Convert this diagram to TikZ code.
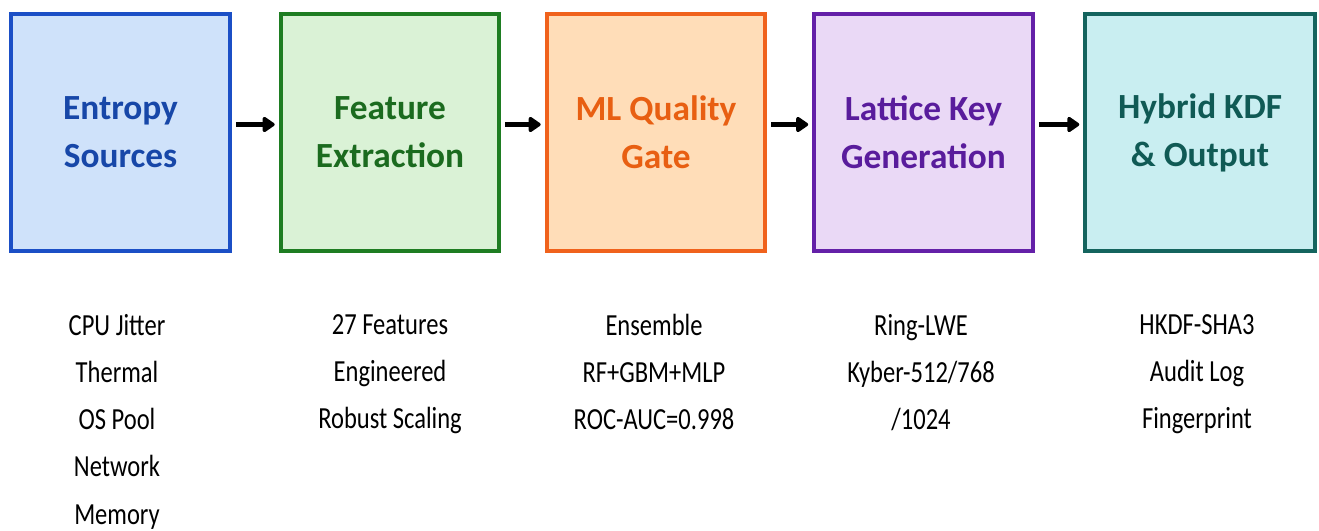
\documentclass[tikz,border=0pt]{standalone}
\usepackage{fontspec}
\setmainfont{Carlito}
\newfontfamily\narrowfont{Carlito}[FakeStretch=0.80]
\usetikzlibrary{arrows.meta,positioning}

% line / fill / text colours of the five stages
\definecolor{srcline}{HTML}{1B4FC6}
\definecolor{srcfill}{HTML}{CFE2FA}
\definecolor{srctext}{HTML}{1747A8}
\definecolor{featline}{HTML}{1E7D22}
\definecolor{featfill}{HTML}{DAF2D6}
\definecolor{feattext}{HTML}{1B6B1F}
\definecolor{gateline}{HTML}{F0621C}
\definecolor{gatefill}{HTML}{FFDDB8}
\definecolor{gatetext}{HTML}{E85F12}
\definecolor{keyline}{HTML}{6420A8}
\definecolor{keyfill}{HTML}{EAD9F6}
\definecolor{keytext}{HTML}{591C9C}
\definecolor{kdfline}{HTML}{14645E}
\definecolor{kdffill}{HTML}{C9EEF1}
\definecolor{kdftext}{HTML}{105A55}

\begin{document}
\begin{tikzpicture}[x=0.75pt,y=-0.75pt,
  stage/.style={draw,line width=3pt,minimum width=164pt,minimum height=178pt,align=center,
    inner sep=2pt,font=\fontsize{26.5}{36}\selectfont\bfseries},
  detail/.style={anchor=north,align=center,inner sep=0pt,font=\narrowfont\fontsize{23}{35.4}\selectfont},
  arr/.style={-{Triangle[length=10pt,width=13pt,round]},line width=3.6pt,shorten <=3pt,shorten >=3pt}]
\useasboundingbox (0,0) rectangle (1319,531);
% ---------- pipeline stages ----------
\node[stage,draw=srcline,fill=srcfill,text=srctext] (src) at (120.5,132.5) {Entropy\\Sources};
\node[stage,draw=featline,fill=featfill,text=feattext] (feat) at (390,132.5) {Feature\\Extraction};
\node[stage,draw=gateline,fill=gatefill,text=gatetext] (gate) at (656,132.5) {ML Quality\\Gate};
\node[stage,draw=keyline,fill=keyfill,text=keytext] (keygen) at (923.5,132.5) {Lattice Key\\Generation};
\node[stage,draw=kdfline,fill=kdffill,text=kdftext,minimum width=172pt] (kdf) at (1200,132.5) {Hybrid KDF\\\& Output};
% ---------- arrows ----------
\draw[arr] ([yshift=6pt]src.east) -- ([yshift=6pt]feat.west);
\draw[arr] ([yshift=6pt]feat.east) -- ([yshift=6pt]gate.west);
\draw[arr] ([yshift=6pt]gate.east) -- ([yshift=6pt]keygen.west);
\draw[arr] ([yshift=6pt]keygen.east) -- ([yshift=6pt]kdf.west);
% ---------- details under each stage ----------
\node[detail] (srcinfo) at (117,314) {CPU Jitter\\Thermal\\OS Pool\\Network\\Memory};
\node[detail] (featinfo) at (390,314) {27 Features\\Engineered\\Robust Scaling};
\node[detail] (gateinfo) at (654,314) {Ensemble\\RF+GBM+MLP\\ROC-AUC=0.998};
\node[detail] (keyinfo) at (921,314) {Ring-LWE\\Kyber-512/768\\/1024};
\node[detail] (kdfinfo) at (1197,314) {HKDF-SHA3\\Audit Log\\Fingerprint};
\end{tikzpicture}
\end{document}
